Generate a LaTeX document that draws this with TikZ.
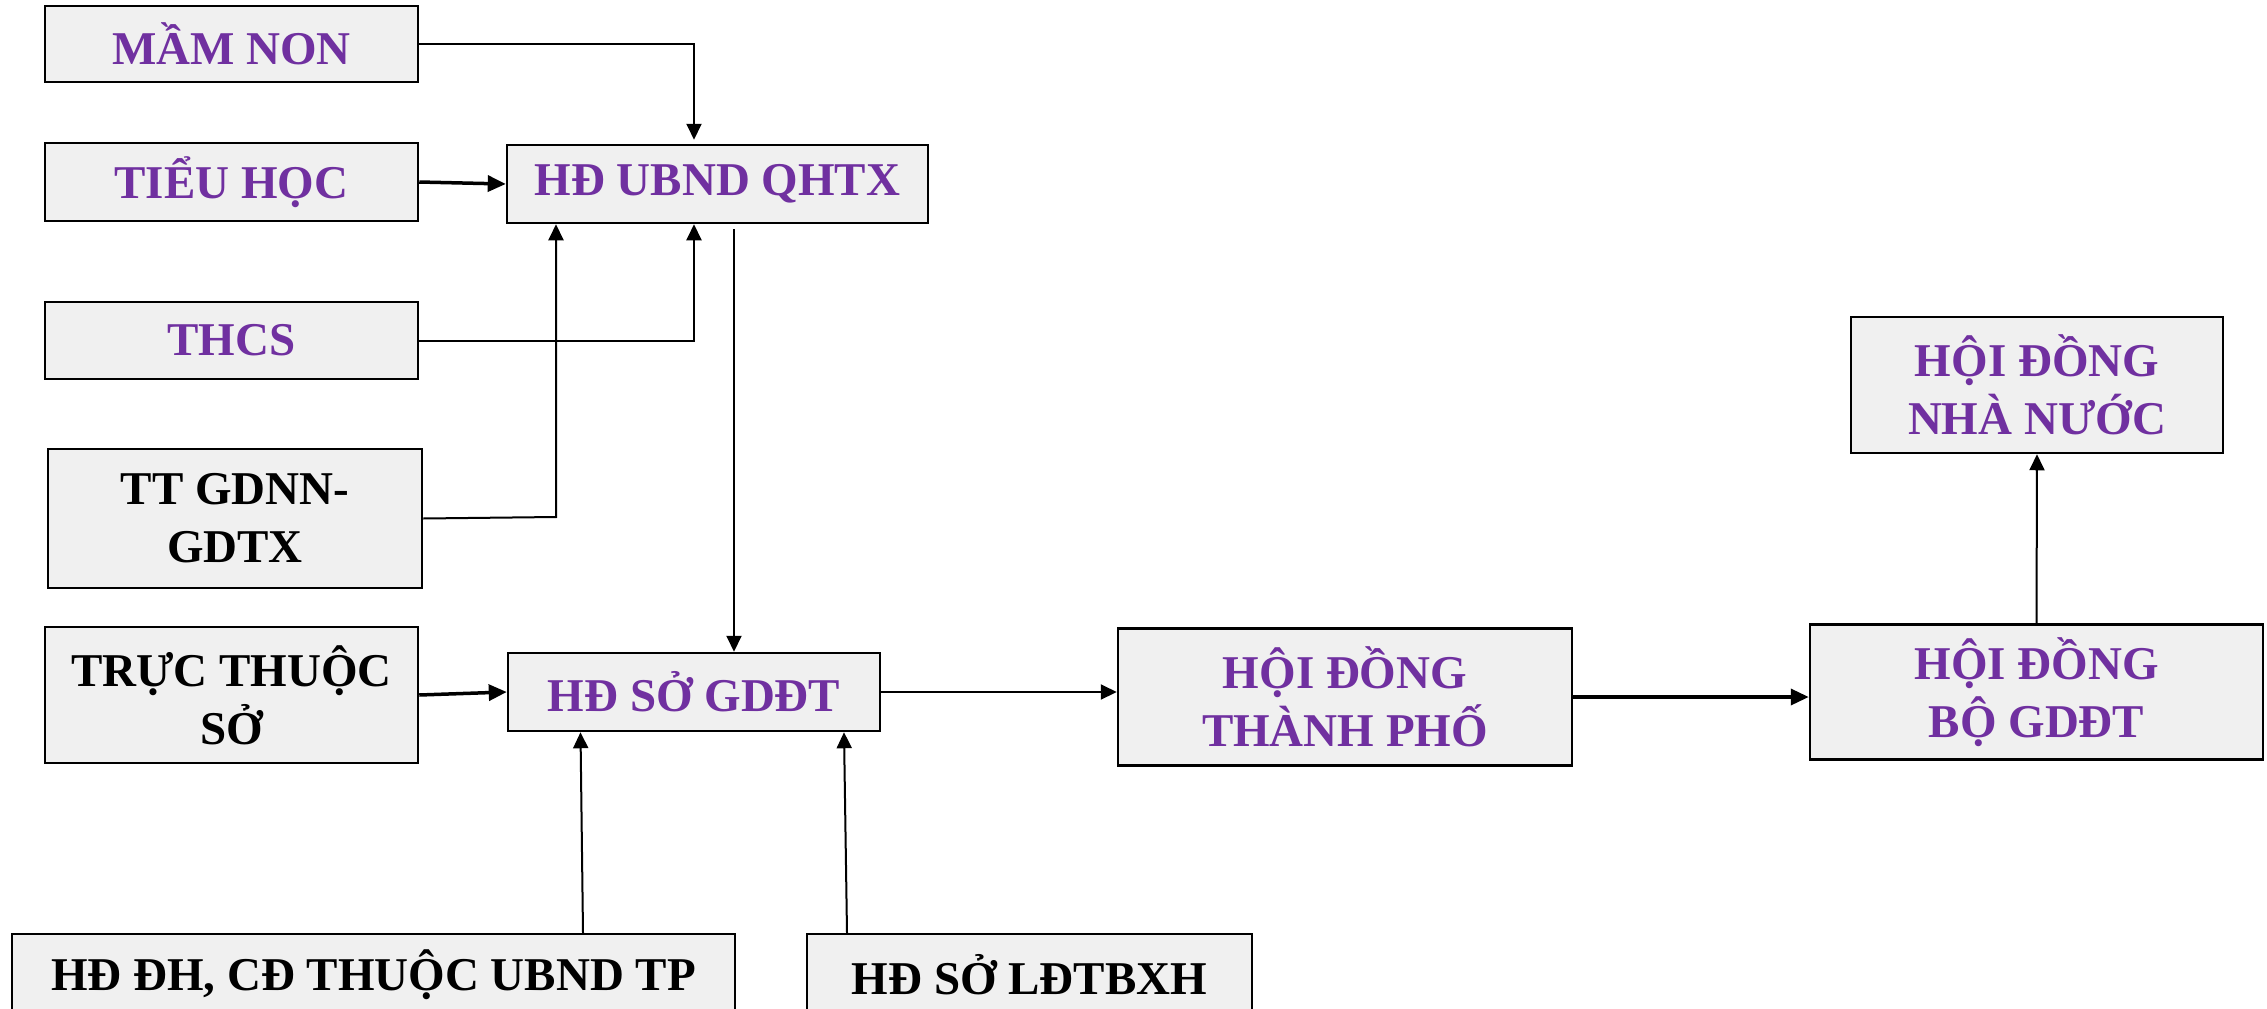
\documentclass[tikz,border=0pt]{standalone}
\usepackage{fontspec}
\setmainfont{Liberation Serif}[BoldFont={Liberation Serif Bold}]
\newfontfamily\boxfont{Liberation Serif Bold}
\usetikzlibrary{arrows.meta,calc}
\definecolor{boxfill}{HTML}{F0F0F0}
\definecolor{purp}{HTML}{7030A0}
\tikzset{
  box/.style={draw=black, line width=2.5pt, fill=boxfill, rectangle, inner sep=0pt, align=center,
    font=\fontsize{47}{58}\boxfont},
  ptext/.style={text=purp},
  btext/.style={text=black},
  arr/.style={line width=2pt, -{Triangle[length=16pt,width=15pt]}},
  arrthick/.style={line width=3.5pt, -{Triangle[length=18pt,width=16pt]}},
  conn/.style={line width=2pt}
}
\begin{document}
\begin{tikzpicture}[x=1pt,y=-1pt]
\useasboundingbox (0,0) rectangle (2267,1009);
\node[box,ptext,minimum width=373pt,minimum height=76pt] (mn) at (231.5,44) {MẦM NON};
\node[box,ptext,minimum width=373pt,minimum height=78pt] (th) at (231.5,182) {TIỂU HỌC};
\node[box,ptext,minimum width=421pt,minimum height=78pt] (ub) at (717.5,184) {HĐ UBND QHTX};
\node[box,ptext,minimum width=373pt,minimum height=77pt] (thcs) at (231.5,340.5) {THCS};
\node[box,btext,minimum width=374pt,minimum height=139pt] (tt) at (235,518.5) {TT GDNN-\\GDTX};
\node[box,btext,minimum width=373pt,minimum height=136pt] (tr) at (231.5,695) {TRỰC THUỘC\\SỞ};
\node[box,ptext,minimum width=372pt,minimum height=78pt] (so) at (694,692) {HĐ SỞ GDĐT};
\node[box,btext,minimum width=723pt,minimum height=82pt] (dh) at (373.5,975) {HĐ ĐH, CĐ THUỘC UBND TP};
\node[box,btext,minimum width=445pt,minimum height=82pt] (ld) at (1029.5,975) {HĐ SỞ LĐTBXH};
\node[box,ptext,minimum width=454pt,minimum height=137pt] (tp) at (1345,697) {HỘI ĐỒNG\\THÀNH PHỐ};
\node[box,ptext,minimum width=453pt,minimum height=135pt] (bo) at (2036.5,692) {HỘI ĐỒNG\\BỘ GDĐT};
\node[box,ptext,minimum width=372pt,minimum height=136pt] (nn) at (2037,385) {HỘI ĐỒNG\\NHÀ NƯỚC};

\coordinate (k1) at (556,517);
\draw[arr,shorten >=4pt] (mn.east) -| ($(ub.north)+(-23.5,0)$);
\draw[arrthick] (th.east) -- (ub.west);
\draw[arr] (thcs.east) -| ($(ub.south)+(-23.5,0)$);
\draw[arr] (tt.east) -- (k1) -- (k1 |- ub.south);
\draw[arr] ($(ub.south)+(16.5,5)$) -- ($(so.north)+(40,0)$);
\draw[arrthick] (tr.east) -- (so.west);
\draw[arr] ($(dh.north)+(209.5,0)$) -- ($(so.south)+(-113.5,0)$);
\draw[arr] ($(ld.north)+(-182.5,0)$) -- ($(so.south)+(150,0)$);
\draw[arr] (so.east) -- (so.east -| tp.west);
\draw[arrthick] (tp.east) -- (tp.east -| bo.west);
\draw[arr] (bo.north) -- (nn.south);
\end{tikzpicture}
\end{document}
